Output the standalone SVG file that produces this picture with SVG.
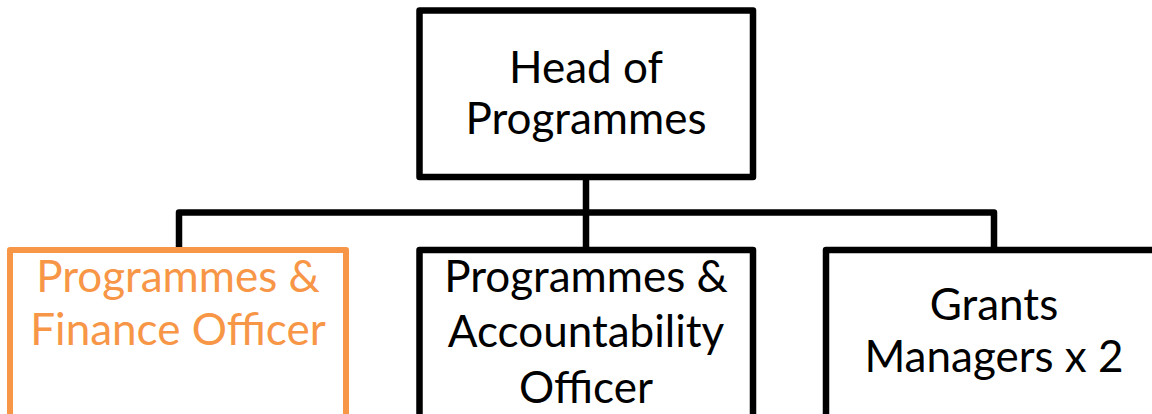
<svg xmlns="http://www.w3.org/2000/svg" width="1152" height="414" viewBox="0 0 1152 414">
<style>
.box{fill:#fff;stroke:#000;stroke-width:6.5;stroke-linejoin:round}
.obox{fill:#fff;stroke:#F79646;stroke-width:6;stroke-linejoin:round}
.t{font-family:Lato,"Open Sans",sans-serif;font-size:44px;fill:#000;text-anchor:middle}
.ot{font-family:Lato,"Open Sans",sans-serif;font-size:44px;fill:#F79646;text-anchor:middle}
.c{fill:none;stroke:#000;stroke-width:6.5;stroke-linejoin:round}
</style>
<rect width="1152" height="414" fill="#fff"/>
<g id="connectors">
<path class="c" d="M586 177V212.5M179 250V212.5H994V250M586 212.5V250"/>
</g>
<g id="head">
<rect class="box" x="419.5" y="10.5" width="333.5" height="166.5"/>
<text class="t" x="586" y="83">Head of</text>
<text class="t" x="586" y="133.5">Programmes</text>
</g>
<g id="finance">
<rect class="obox" x="10" y="250" width="336" height="200"/>
<text class="ot" x="178" y="292">Programmes &amp;</text>
<text class="ot" x="178" y="345">Finance Officer</text>
</g>
<g id="accountability">
<rect class="box" x="419.5" y="250" width="333.5" height="200"/>
<text class="t" x="586" y="292">Programmes &amp;</text>
<text class="t" x="586" y="347">Accountability</text>
<text class="t" x="586" y="403">Officer</text>
</g>
<g id="grants">
<rect class="box" x="826" y="250" width="336" height="200"/>
<text class="t" x="994" y="320">Grants</text>
<text class="t" x="994" y="372">Managers x 2</text>
</g>
</svg>
